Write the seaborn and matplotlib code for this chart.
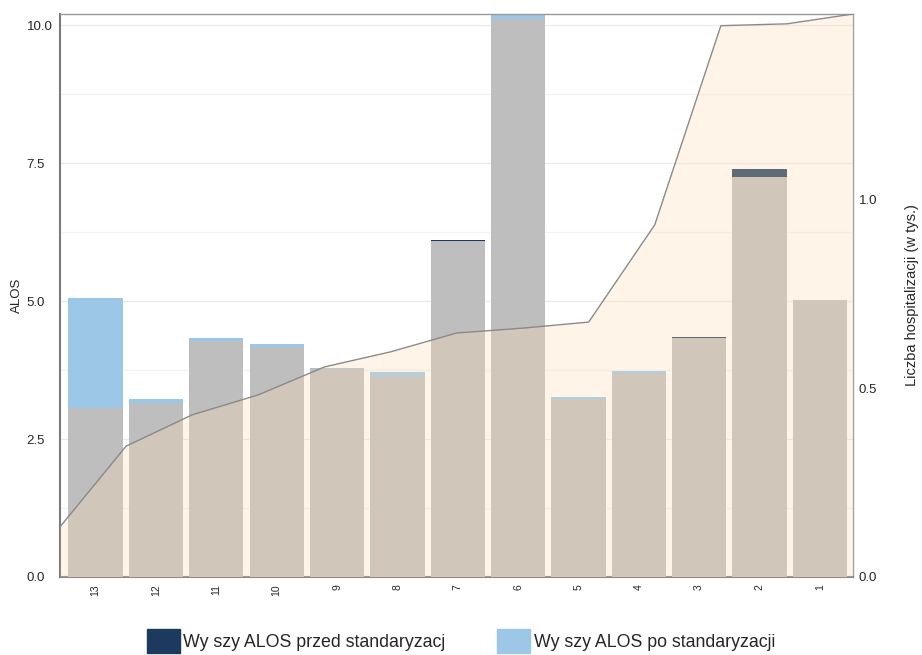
import numpy as np
import pandas as pd
import matplotlib.pyplot as plt
from matplotlib.patches import Patch
from matplotlib.ticker import FormatStrFormatter
import seaborn as sns

# === Dane ===
kategorie = ['13', '12', '11', '10', '9', '8', '7', '6', '5', '4', '3', '2', '1']
alos_przed = [3.07, 3.15, 4.27, 4.17, 3.76, 3.62, 6.11, 10.11, 3.21, 3.68, 4.35, 7.39, 5.02]
alos_po = [5.05, 3.22, 4.33, 4.22, 3.79, 3.71, 6.08, 10.25, 3.26, 3.73, 4.33, 7.25, 5.02]
hospitalizacje = [0.133, 0.347, 0.430, 0.483, 0.557, 0.597, 0.647, 0.660, 0.676, 0.934, 1.462, 1.467, 1.493]

etykieta_przed = 'Wy szy ALOS przed standaryzacj'
etykieta_po = 'Wy szy ALOS po standaryzacji'

# === Kolory ===
granat = '#1b3a5e'
blekit = '#9cc7e6'
szary = '#bebebe'
obszar = '#fcdcb2'

sns.set_style("white")
plt.rcParams['font.family'] = ['Liberation Sans', 'DejaVu Sans']

df = pd.DataFrame({'grupa': kategorie, 'przed': alos_przed, 'po': alos_po})
df['gora'] = df[['przed', 'po']].max(axis=1)
df['dol'] = df[['przed', 'po']].min(axis=1)
kolory = {}
for g, p, q in zip(df['grupa'], df['przed'], df['po']):
    kolory[g] = granat if p > q else (blekit if q > p else szary)

fig = plt.figure(figsize=(9.22, 6.55), dpi=100)
rect = [0.0651, 0.1191, 0.8601, 0.8595]
ax = fig.add_axes(rect)

# grid at 1.25 steps
for v in np.arange(1.25, 10.2, 1.25):
    ax.axhline(v, color='#ebebeb' if v % 2.5 == 0 else '#f3f3f3', lw=0.9, zorder=0)

sns.barplot(data=df, x='grupa', y='gora', hue='grupa', palette=kolory, legend=False,
            order=kategorie, width=0.9, saturation=1, linewidth=0, ax=ax, zorder=2)
sns.barplot(data=df, x='grupa', y='dol', color=szary, order=kategorie,
            width=0.9, saturation=1, linewidth=0, ax=ax, zorder=3)

ax.set_xlim(-0.59, 12.55)
ax.set_ylim(0, 10.2)
ax.set_yticks([0, 2.5, 5, 7.5, 10])
ax.yaxis.set_major_formatter(FormatStrFormatter('%.1f'))
ax.set_xlabel('')
ax.set_ylabel('ALOS', fontsize=9.5, labelpad=3)
ax.tick_params(axis='y', length=0, pad=24, labelsize=9.5)
for t in ax.get_yticklabels():
    t.set_horizontalalignment('left')
ax.tick_params(axis='x', length=0, pad=5, labelsize=7.5, labelrotation=90)
for s in ax.spines.values():
    s.set_color('#999999')
    s.set_linewidth(1)
ax.spines['left'].set_color('#7a7a7a')
ax.spines['left'].set_linewidth(1.5)
ax.spines['bottom'].set_color('#7a7a7a')
ax.spines['bottom'].set_linewidth(1.5)

# === Liczba hospitalizacji (druga os) ===
ax2 = fig.add_axes(rect, frameon=False)
xs = np.arange(len(hospitalizacje))
ax2.fill_between(xs, hospitalizacje, color=obszar, alpha=0.3, lw=0)
ax2.plot(xs, hospitalizacje, color='#8a8a8a', lw=1)
ax2.set_xlim(0, len(hospitalizacje) - 1)
ax2.set_ylim(0, 1.493)
ax2.set_xticks([])
ax2.yaxis.tick_right()
ax2.yaxis.set_label_position('right')
ax2.set_yticks([0, 0.5, 1.0])
ax2.yaxis.set_major_formatter(FormatStrFormatter('%.1f'))
ax2.tick_params(axis='y', length=0, pad=4, labelsize=9.5)
ax2.set_ylabel('Liczba hospitalizacji (w tys.)', fontsize=10.5, labelpad=20)

fig.legend(handles=[Patch(color=granat, label=etykieta_przed),
                    Patch(color=blekit, label=etykieta_po)],
           loc='lower center', bbox_to_anchor=(0.5, -0.022), ncol=2, frameon=False,
           fontsize=12.8, handlelength=1.85, handleheight=1.75, handletextpad=0.2,
           columnspacing=2.9)

fig.savefig('out.png', dpi=100)
